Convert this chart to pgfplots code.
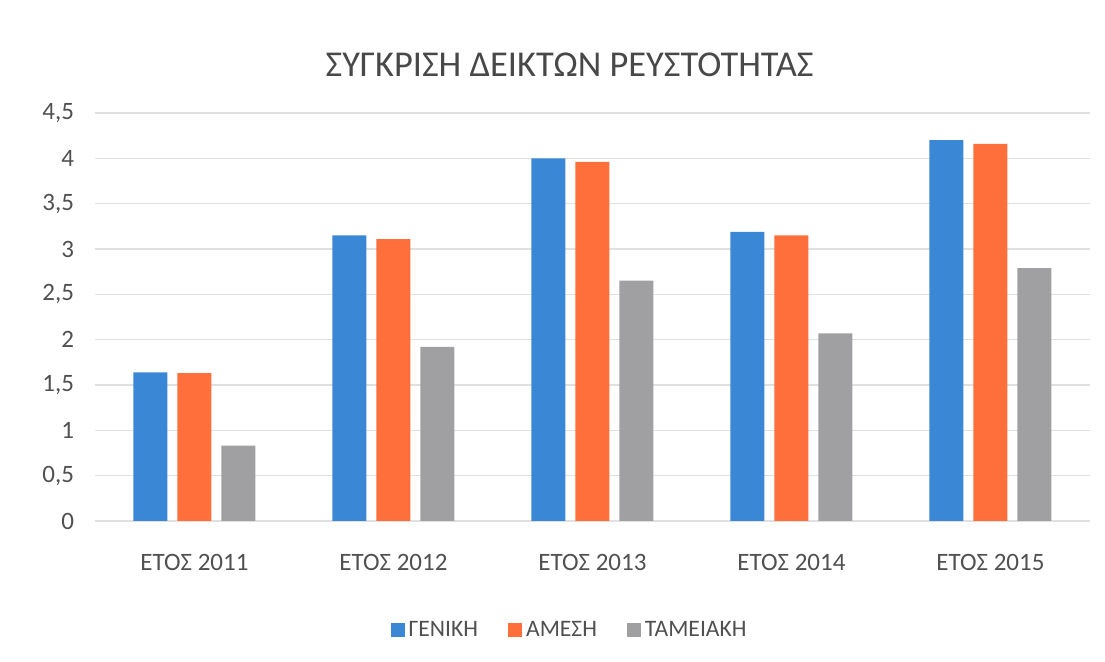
\documentclass[border=0pt]{standalone}
\usepackage{pgfplots}
\pgfplotsset{compat=1.18}
\usepackage{fontspec}
\setmainfont{Carlito}
\definecolor{cblue}{HTML}{3A87D5}
\definecolor{corange}{HTML}{FF6F3C}
\definecolor{cgrey}{HTML}{A09FA1}
\definecolor{ctext}{HTML}{505050}
\definecolor{cgrid}{HTML}{E0E0E0}
\begin{document}
\begin{tikzpicture}
\path (-47.5pt,-70.5pt) rectangle (505pt,260.5pt);
\begin{axis}[
  scale only axis,
  width=497.5pt, height=204pt,
  ybar=5pt, bar width=17pt,
  xmin=-0.5, xmax=4.5,
  ymin=0, ymax=4.5,
  ytick={0,0.5,...,4.5},
  xtick=data,
  xticklabels={ΕΤΟΣ 2011,ΕΤΟΣ 2012,ΕΤΟΣ 2013,ΕΤΟΣ 2014,ΕΤΟΣ 2015},
  ymajorgrids, grid style={cgrid, line width=0.6pt},
  axis line style={draw=none},
  major tick length=0pt,
  /pgf/number format/assume math mode=true,
  /pgf/number format/use comma,
  /pgf/number format/fixed,
  tick label style={font=\fontsize{12.5}{14}\selectfont, text=ctext},
  yticklabel style={xshift=-7pt},
  xticklabel style={anchor=center, yshift=-20.5pt},
  title={ΣΥΓΚΡΙΣΗ ΔΕΙΚΤΩΝ ΡΕΥΣΤΟΤΗΤΑΣ},
  title style={font=\fontsize{18.2}{20}\selectfont, text=ctext!90!black, at={(rel axis cs:0.477,1)}, anchor=center, yshift=18pt},
  legend columns=3,
  legend style={draw=none, fill=none, at={(rel axis cs:0.478,0)}, anchor=center, yshift=-54.5pt,
    font=\fontsize{11.8}{13}\selectfont, text=ctext,
    /tikz/every even column/.append style={column sep=13pt}},
  legend image code/.code={\fill[#1] (0pt,-3.5pt) rectangle (7pt,3.5pt);},
]
\addplot[fill=cblue, draw=none] coordinates {(0,1.64) (1,3.15) (2,4.00) (3,3.19) (4,4.20)};
\addplot[fill=corange, draw=none] coordinates {(0,1.63) (1,3.11) (2,3.96) (3,3.15) (4,4.16)};
\addplot[fill=cgrey, draw=none] coordinates {(0,0.83) (1,1.92) (2,2.65) (3,2.07) (4,2.79)};
\legend{ΓΕΝΙΚΗ,ΑΜΕΣΗ,ΤΑΜΕΙΑΚΗ}
\end{axis}
\end{tikzpicture}
\end{document}
